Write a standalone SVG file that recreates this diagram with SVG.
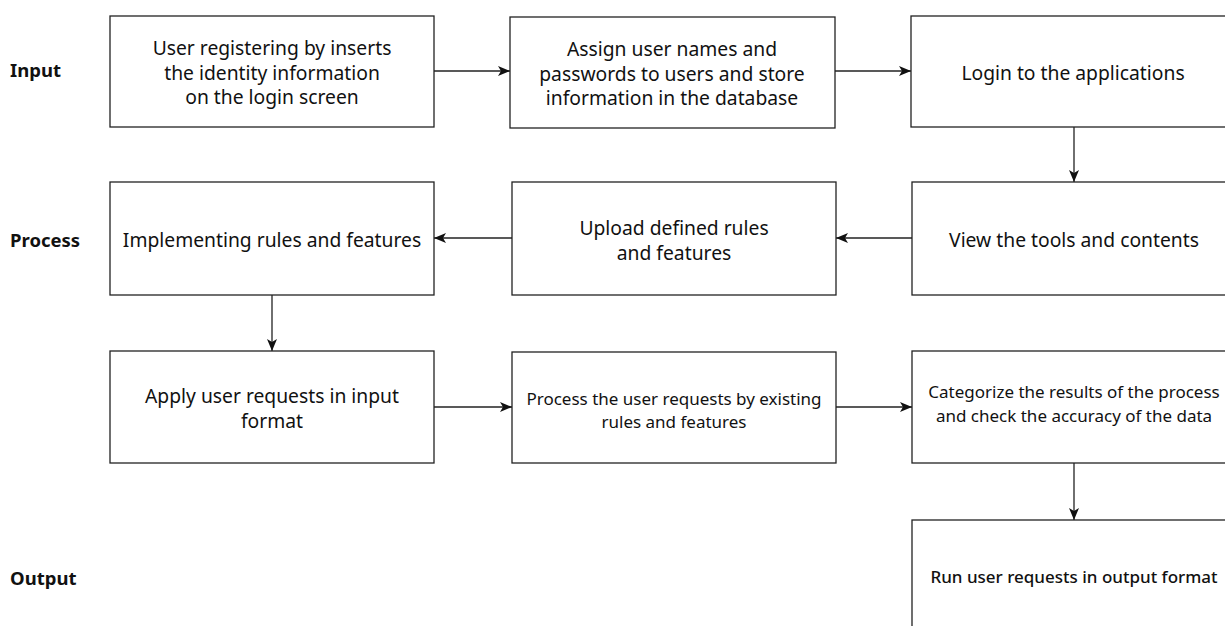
<svg xmlns="http://www.w3.org/2000/svg" width="1225" height="626" viewBox="0 0 1225 626">
  <defs>
    <marker id="arrow" viewBox="0 0 12 10" refX="12" refY="5" markerWidth="12" markerHeight="10" markerUnits="userSpaceOnUse" orient="auto">
      <path d="M0,0 L12,5 L0,10 L3,5 Z" fill="#111"/>
    </marker>
  </defs>
  <style>
    .box { fill: #fff; stroke: #222; stroke-width: 1.3; }
    .t { font-family: "Noto Sans", "Open Sans", sans-serif; font-size: 19.3px; fill: #111; text-anchor: middle; }
    .s { font-family: "Noto Sans", "Open Sans", sans-serif; font-size: 17px; fill: #111; text-anchor: middle; }
    .lbl { font-family: "Noto Sans", "Open Sans", sans-serif; font-size: 18.5px; font-weight: bold; fill: #111; }
    .conn { stroke: #222; stroke-width: 1.3; fill: none; marker-end: url(#arrow); }
  </style>
  <rect width="1225" height="626" fill="#fff"/>

  <!-- stage labels -->
  <g id="labels">
    <text class="lbl" x="10" y="77">Input</text>
    <text class="lbl" x="10" y="247">Process</text>
    <text class="lbl" x="10" y="585">Output</text>
  </g>

  <!-- connectors -->
  <g id="connectors">
    <line class="conn" x1="434" y1="71" x2="510" y2="71"/>
    <line class="conn" x1="835" y1="71" x2="911" y2="71"/>
    <line class="conn" x1="1074" y1="127" x2="1074" y2="182"/>
    <line class="conn" x1="912" y1="238" x2="836" y2="238"/>
    <line class="conn" x1="512" y1="238" x2="434" y2="238"/>
    <line class="conn" x1="272" y1="295" x2="272" y2="351"/>
    <line class="conn" x1="434" y1="407" x2="512" y2="407"/>
    <line class="conn" x1="836" y1="407" x2="912" y2="407"/>
    <line class="conn" x1="1074" y1="463" x2="1074" y2="520"/>
  </g>

  <!-- input row -->
  <g id="n-register">
    <rect class="box" x="110" y="16" width="324" height="111"/>
    <text class="t" x="272" y="55">User registering by inserts</text>
    <text class="t" x="272" y="79.5">the identity information</text>
    <text class="t" x="272" y="104">on the login screen</text>
  </g>
  <g id="n-assign">
    <rect class="box" x="510" y="17" width="325" height="111"/>
    <text class="t" x="672" y="56">Assign user names and</text>
    <text class="t" x="672" y="80.5">passwords to users and store</text>
    <text class="t" x="672" y="105">information in the database</text>
  </g>
  <g id="n-login">
    <rect class="box" x="911" y="16" width="325" height="111"/>
    <text class="t" x="1073" y="80">Login to the applications</text>
  </g>

  <!-- process row -->
  <g id="n-implement">
    <rect class="box" x="110" y="182" width="324" height="113"/>
    <text class="t" x="272" y="247">Implementing rules and features</text>
  </g>
  <g id="n-upload">
    <rect class="box" x="512" y="182" width="324" height="113"/>
    <text class="t" x="674" y="234.5">Upload defined rules</text>
    <text class="t" x="674" y="259.5">and features</text>
  </g>
  <g id="n-view">
    <rect class="box" x="912" y="182" width="325" height="113"/>
    <text class="t" x="1074" y="247">View the tools and contents</text>
  </g>

  <g id="n-apply">
    <rect class="box" x="110" y="351" width="324" height="112"/>
    <text class="t" x="272" y="402.5">Apply user requests in input</text>
    <text class="t" x="272" y="427.5">format</text>
  </g>
  <g id="n-processreq">
    <rect class="box" x="512" y="352" width="324" height="111"/>
    <text class="s" x="674" y="405">Process the user requests by existing</text>
    <text class="s" x="674" y="428">rules and features</text>
  </g>
  <g id="n-categorize">
    <rect class="box" x="912" y="351" width="325" height="112"/>
    <text class="s" x="1074" y="398">Categorize the results of the process</text>
    <text class="s" x="1074" y="422">and check the accuracy of the data</text>
  </g>

  <!-- output row -->
  <g id="n-run">
    <rect class="box" x="912" y="520" width="325" height="120"/>
    <text class="s" x="1074" y="583" font-weight="500">Run user requests in output format</text>
  </g>
</svg>
